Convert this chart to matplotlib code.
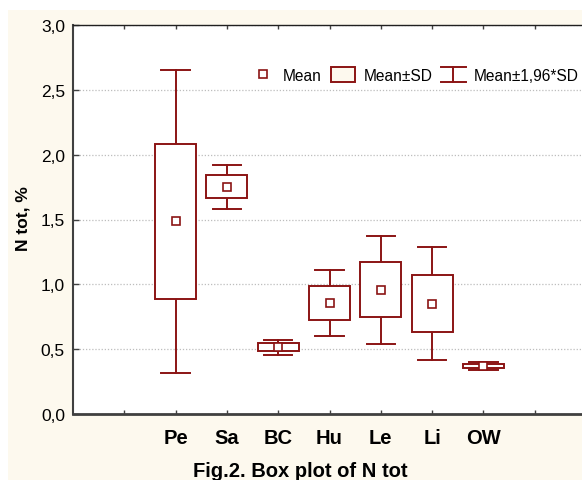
#!/usr/bin/env python3
#
# Box plot of N tot (mean, mean +- SD, mean +- 1.96*SD) per site

import matplotlib
matplotlib.use('Agg')
import matplotlib.pyplot as plt
from matplotlib.patches import Rectangle, Patch
from matplotlib.lines import Line2D
from matplotlib.legend_handler import HandlerBase
from matplotlib.ticker import FuncFormatter

categories = ['Pe', 'Sa', 'BC', 'Hu', 'Le', 'Li', 'OW']
means = [1.485, 1.753, 0.515, 0.855, 0.957, 0.852, 0.368]
sds = [0.595, 0.087, 0.030, 0.131, 0.212, 0.221, 0.015]
yticks = [0.0, 0.5, 1.0, 1.5, 2.0, 2.5, 3.0]

RED = '#8B1414'
CREAM = '#FDF9EE'
AXIS_GRAY = '#404040'
FONT = 'Liberation Sans'

plt.rcParams['font.family'] = [FONT, 'DejaVu Sans']


class HandlerIBeam(HandlerBase):
    """Legend symbol for the mean +- 1.96*SD whiskers."""
    def create_artists(self, legend, orig_handle, xdescent, ydescent,
                       width, height, fontsize, trans):
        x0, x1 = -xdescent, -xdescent + width
        y0, y1 = -ydescent, -ydescent + height
        xm = (x0 + x1) / 2.0
        arts = [Line2D([xm, xm], [y0, y1]),
                Line2D([x0, x1], [y1, y1]),
                Line2D([x0, x1], [y0, y0])]
        for a in arts:
            a.set_color(RED)
            a.set_linewidth(1.4)
            a.set_transform(trans)
        return arts


fig = plt.figure(figsize=(5.82, 4.81), dpi=100, facecolor='white')
fig.patches.append(Rectangle((8 / 582, 0), 1, 1 - 11 / 481,
                             transform=fig.transFigure, facecolor=CREAM,
                             edgecolor='none', zorder=-10))

ax = fig.add_axes([73 / 582, 1 - 415 / 481, 513 / 582, 389 / 481])
ax.set_facecolor('white')

box_w = 0.8
cap_w = 0.55
for i, (m, s) in enumerate(zip(means, sds)):
    x = i + 1
    lo, hi = m - 1.96 * s, m + 1.96 * s
    ax.plot([x, x], [lo, hi], color=RED, lw=1.4, zorder=3)
    ax.plot([x - cap_w / 2, x + cap_w / 2], [hi, hi], color=RED, lw=1.4, zorder=3)
    ax.plot([x - cap_w / 2, x + cap_w / 2], [lo, lo], color=RED, lw=1.4, zorder=3)
    ax.add_patch(Rectangle((x - box_w / 2, m - s), box_w, 2 * s,
                           facecolor='white', edgecolor=RED, lw=1.4, zorder=4))
    ax.plot([x], [m], marker='s', ls='none', ms=6, mfc='white', mec=RED,
            mew=1.2, zorder=5)

ax.set_xlim(-1, 9)
ax.set_ylim(0, 3)

xt = list(range(0, 9))
ax.set_xticks(xt)
ax.set_xticklabels([''] + categories + [''], fontsize=14.5, fontweight='bold')
ax.set_yticks(yticks)
ax.yaxis.set_major_formatter(FuncFormatter(lambda v, p: ('%.1f' % v).replace('.', ',')))
ax.tick_params(axis='x', direction='in', length=3, width=1, top=True,
               bottom=True, pad=10, color=AXIS_GRAY)
ax.tick_params(axis='y', direction='in', length=4, width=1, left=True,
               right=False, pad=5.8, labelsize=12.5, color=AXIS_GRAY)

ax.yaxis.grid(True, color='#BDBDBD', linestyle=(0, (1, 1.5)), lw=0.9)
ax.set_axisbelow(True)

ax.spines['right'].set_visible(False)
ax.spines['top'].set_linewidth(1.0)
ax.spines['top'].set_color('#202020')
ax.spines['left'].set_linewidth(1.5)
ax.spines['left'].set_color(AXIS_GRAY)
ax.spines['bottom'].set_linewidth(2.0)
ax.spines['bottom'].set_color(AXIS_GRAY)

ax.set_ylabel('N tot, %', fontsize=12.5, fontweight='bold', labelpad=0)
ax.yaxis.set_label_coords(-(73 - 31) / 513, 0.505)

mean_h = Line2D([], [], marker='s', ls='none', ms=6, mfc='white', mec=RED, mew=1.2)
box_h = Patch(facecolor=CREAM, edgecolor=RED, lw=1.4)
ibeam_h = Line2D([], [])
ax.legend([mean_h, box_h, ibeam_h], ['Mean', 'Mean\u00b1SD', 'Mean\u00b11,96*SD'],
          handler_map={ibeam_h: HandlerIBeam()},
          loc='center left', bbox_to_anchor=((250.5 - 73) / 513, (415 - 76) / 389),
          ncol=3, frameon=False, fontsize=11.2, borderpad=0, borderaxespad=0,
          handlelength=1.6, handleheight=1.05, handletextpad=0.5,
          columnspacing=0.55)

fig.text(300 / 582, 0.0085, 'Fig.2. Box plot of N tot', ha='center',
         va='baseline', fontsize=14.5, fontweight='bold')

fig.savefig('out.png', dpi=100, facecolor=fig.get_facecolor())
